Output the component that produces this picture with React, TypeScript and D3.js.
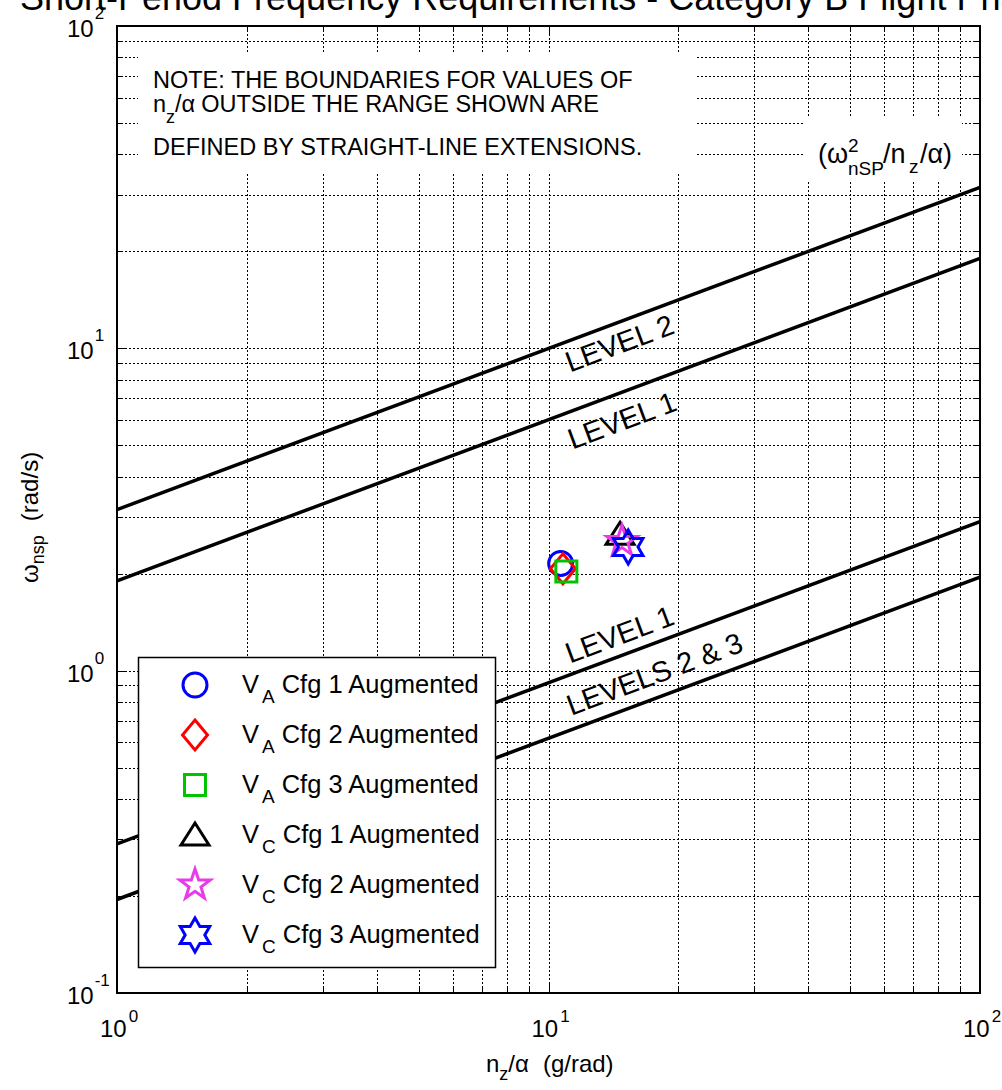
import { useEffect, useRef } from "react";
import * as d3 from "d3";

const width = 1002;
const height = 1090;
const font = "'Liberation Sans', Arial, Helvetica, sans-serif";

// requirement boundaries, read at n/a = 1 and n/a = 100
const boundaryX = [1, 100];
const boundaryStart = [3.16, 1.9, 0.29, 0.195];
const boundaryEnd = [31.6, 19, 2.9, 1.95];

const levelLabels = ["LEVEL 2", "LEVEL 1", "LEVEL 1", "LEVELS 2 & 3"];
const levelLabelX = [14.6, 14.8, 14.6, 17.6];
const levelLabelY = [10.4, 6.0, 1.3, 0.98];

// the six test points
const seriesSub = ["A", "A", "A", "C", "C", "C"];
const seriesName = ["Cfg 1 Augmented", "Cfg 2 Augmented", "Cfg 3 Augmented", "Cfg 1 Augmented", "Cfg 2 Augmented", "Cfg 3 Augmented"];
const seriesColor = ["#0000ff", "#ff0000", "#00c400", "#000000", "#e83ce8", "#0000ff"];
const seriesShape = ["circle", "diamond", "square", "triangle", "pentagram", "hexagram"];
const seriesX = [10.67, 10.8, 11.0, 14.65, 14.8, 15.3];
const seriesY = [2.15, 2.07, 2.03, 2.65, 2.52, 2.42];

const xTickValues = [1, 10, 100];
const xTickExp = ["0", "1", "2"];
const yTickValues = [0.1, 1, 10, 100];
const yTickExp = ["-1", "0", "1", "2"];

const noteLines = ["NOTE: THE BOUNDARIES FOR VALUES OF", " OUTSIDE THE RANGE SHOWN ARE", "DEFINED BY STRAIGHT-LINE EXTENSIONS."];

function starPoints(n: number, R: number, r: number) {
  const pts: [number, number][] = [];
  for (let k = 0; k < 2 * n; k++) {
    const a = -Math.PI / 2 + (k * Math.PI) / n;
    const rad = k % 2 === 0 ? R : r;
    pts.push([rad * Math.cos(a), rad * Math.sin(a)]);
  }
  return pts;
}

function polygon(pts: [number, number][]) {
  return {
    draw(ctx: any) {
      ctx.moveTo(pts[0][0], pts[0][1]);
      pts.slice(1).forEach((p) => ctx.lineTo(p[0], p[1]));
      ctx.closePath();
    },
  };
}

// matlab-ish marker shapes as d3 symbol types
const symbolTypes: Record<string, any> = {
  circle: {
    draw(ctx: any) {
      ctx.moveTo(12, 0);
      ctx.arc(0, 0, 12, 0, 2 * Math.PI);
    },
  },
  diamond: polygon([[0, -15], [12.5, 0], [0, 15], [-12.5, 0]]),
  square: polygon([[-10.5, -10.5], [10.5, -10.5], [10.5, 10.5], [-10.5, 10.5]]),
  triangle: polygon([[0, -12], [14, 10], [-14, 10]]),
  pentagram: polygon(starPoints(5, 16, 6.3)),
  hexagram: polygon(starPoints(6, 17, 9.8)),
};

function App() {
  const ref = useRef<SVGSVGElement>(null);

  useEffect(() => {
    const svg = d3.select(ref.current);
    svg.selectAll("*").remove();

    const x = d3.scaleLog().domain([1, 100]).range([117, 980]);
    const y = d3.scaleLog().domain([0.1, 100]).range([993, 26]);
    const left = 117, right = 980, top = 26, bottom = 993;
    const px = (v: number) => Math.round(v) + 0.5;

    // dotted grid
    const grid = svg.append("g")
      .attr("stroke", "#000")
      .attr("stroke-width", 1)
      .attr("stroke-dasharray", "2,2");
    grid.selectAll(".gx")
      .data(x.ticks().filter((d) => d > 1 && d < 100))
      .join("line")
      .attr("x1", (d) => px(x(d))).attr("x2", (d) => px(x(d)))
      .attr("y1", top).attr("y2", bottom);
    grid.selectAll(".gy")
      .data(y.ticks().filter((d) => d > 0.1 && d < 100))
      .join("line")
      .attr("class", "gy")
      .attr("y1", (d) => px(y(d))).attr("y2", (d) => px(y(d)))
      .attr("x1", left).attr("x2", right);

    // small inside ticks on all four sides
    const ticks = svg.append("g").attr("stroke", "#000").attr("stroke-width", 1);
    x.ticks().forEach((d) => {
      const len = Number.isInteger(Math.log10(d)) ? 9 : 5;
      ticks.append("line").attr("x1", px(x(d))).attr("x2", px(x(d))).attr("y1", bottom).attr("y2", bottom - len);
      ticks.append("line").attr("x1", px(x(d))).attr("x2", px(x(d))).attr("y1", top).attr("y2", top + len);
    });
    y.ticks().forEach((d) => {
      const len = Math.abs(Math.log10(d) - Math.round(Math.log10(d))) < 1e-9 ? 9 : 5;
      ticks.append("line").attr("y1", px(y(d))).attr("y2", px(y(d))).attr("x1", left).attr("x2", left + len);
      ticks.append("line").attr("y1", px(y(d))).attr("y2", px(y(d))).attr("x1", right).attr("x2", right - len);
    });

    // white boxes behind the note and the parameter label
    svg.append("rect").attr("x", 138).attr("y", 53).attr("width", 557).attr("height", 120).attr("fill", "#fff");
    svg.append("rect").attr("x", 805).attr("y", 118).attr("width", 157).attr("height", 62).attr("fill", "#fff");

    // boundary lines
    const line = d3.line<[number, number]>().x((d) => x(d[0])).y((d) => y(d[1]));
    boundaryStart.forEach((s, i) => {
      svg.append("path")
        .attr("d", line([[boundaryX[0], s], [boundaryX[1], boundaryEnd[i]]]))
        .attr("fill", "none")
        .attr("stroke", "#000")
        .attr("stroke-width", 3.5);
    });

    const angle = (Math.atan2(y(boundaryEnd[0]) - y(boundaryStart[0]), x(100) - x(1)) * 180) / Math.PI;
    levelLabels.forEach((t, i) => {
      const cx = x(levelLabelX[i]);
      const cy = y(levelLabelY[i]);
      svg.append("text")
        .attr("transform", `translate(${cx},${cy}) rotate(${angle})`)
        .attr("text-anchor", "middle")
        .attr("dy", "0.36em")
        .attr("font-family", font)
        .attr("font-size", 29)
        .text(t);
    });

    // note
    const note = svg.append("g").attr("font-family", font).attr("font-size", 23.5).attr("fill", "#000");
    note.append("text").attr("x", 153).attr("y", 88).text(noteLines[0]);
    const l2 = note.append("text").attr("x", 153).attr("y", 112);
    l2.append("tspan").text("n");
    l2.append("tspan").attr("dy", 11).attr("font-size", 18).text("z");
    l2.append("tspan").attr("dy", -11).text("/\u03b1");
    l2.append("tspan").attr("dx", 6).text(noteLines[1].trim());
    note.append("text").attr("x", 153).attr("y", 155).text(noteLines[2]);

    // (w^2 nSP / nz / a) label
    const pl = svg.append("g").attr("font-family", font).attr("font-size", 27);
    pl.append("text").attr("x", 818).attr("y", 163).text("(\u03c9");
    pl.append("text").attr("x", 848).attr("y", 152).attr("font-size", 19).text("2");
    pl.append("text").attr("x", 848).attr("y", 175).attr("font-size", 19).text("nSP");
    pl.append("text").attr("x", 883).attr("y", 163).text("/n");
    pl.append("text").attr("x", 909).attr("y", 173).attr("font-size", 19).text("z");
    pl.append("text").attr("x", 920).attr("y", 163).text("/\u03b1)");

    // data markers
    seriesX.forEach((v, i) => {
      svg.append("path")
        .attr("transform", `translate(${x(v)},${y(seriesY[i])})`)
        .attr("d", d3.symbol().type(symbolTypes[seriesShape[i]])())
        .attr("fill", "none")
        .attr("stroke", seriesColor[i])
        .attr("stroke-width", 3);
    });

    // legend
    const lg = svg.append("g").attr("font-family", font);
    lg.append("rect")
      .attr("x", 138.5).attr("y", 657.5).attr("width", 357).attr("height", 310)
      .attr("fill", "#fff").attr("stroke", "#000").attr("stroke-width", 1.5);
    seriesName.forEach((name, i) => {
      const ry = 685 + i * 50;
      lg.append("path")
        .attr("transform", `translate(195,${ry})`)
        .attr("d", d3.symbol().type(symbolTypes[seriesShape[i]])())
        .attr("fill", "none")
        .attr("stroke", seriesColor[i])
        .attr("stroke-width", 3);
      const t = lg.append("text").attr("x", 242).attr("y", ry + 8).attr("font-size", 25.5);
      t.append("tspan").text("V");
      t.append("tspan").attr("dx", 3).attr("dy", 10).attr("font-size", 19).text(seriesSub[i]);
      t.append("tspan").attr("dx", 7).attr("dy", -10).text(name);
    });

    // axes box
    svg.append("rect")
      .attr("x", left).attr("y", top).attr("width", right - left).attr("height", bottom - top)
      .attr("fill", "none").attr("stroke", "#000").attr("stroke-width", 2);

    // tick labels
    const tl = svg.append("g").attr("font-family", font).attr("font-size", 24);
    xTickValues.forEach((v, i) => {
      const t = tl.append("text").attr("x", x(v) - 17).attr("y", 1037);
      t.append("tspan").text("10");
      t.append("tspan").attr("dx", 2).attr("dy", -15).attr("font-size", 17).text(xTickExp[i]);
    });
    yTickValues.forEach((v, i) => {
      const t = tl.append("text").attr("x", 67).attr("y", y(v) + 11);
      t.append("tspan").text("10");
      t.append("tspan").attr("dx", 1).attr("dy", -18).attr("font-size", 17).text(yTickExp[i]);
    });

    // axis labels
    const xl = svg.append("text").attr("x", 486).attr("y", 1072).attr("font-family", font).attr("font-size", 24);
    xl.append("tspan").text("n");
    xl.append("tspan").attr("dy", 8).attr("font-size", 18).text("z");
    xl.append("tspan").attr("dy", -8).text("/\u03b1");
    xl.append("tspan").attr("dx", 14).text("(g/rad)");

    const yl = svg.append("text")
      .attr("transform", "translate(38,583) rotate(-90)")
      .attr("font-family", font).attr("font-size", 24);
    yl.append("tspan").text("\u03c9");
    yl.append("tspan").attr("dy", 6).attr("font-size", 18).text("nsp");
    yl.append("tspan").attr("dy", -6).attr("dx", 14).text("(rad/s)");

    // title (runs off the page like the original)
    svg.append("text")
      .attr("x", 20).attr("y", 10)
      .attr("font-family", font).attr("font-size", 36)
      .text("Short-Period Frequency Requirements - Category B Flight Phases");
  }, []);

  return (
    <div style={{ position: "absolute", left: 0, top: 0 }}>
      <svg ref={ref} width={width} height={height} style={{ display: "block", background: "#fff" }} />
    </div>
  );
}

export default App;
